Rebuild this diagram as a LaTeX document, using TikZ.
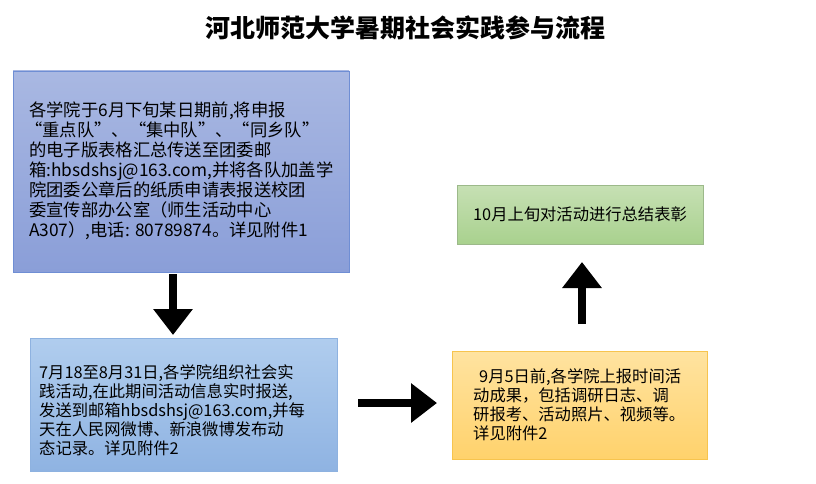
\documentclass[tikz,border=0pt]{standalone}
\usepackage{fontspec}
\setmainfont{Noto Sans CJK SC}
\usetikzlibrary{arrows.meta}
\definecolor{bA}{HTML}{A9B8E2}\definecolor{bB}{HTML}{8A9ED8}\definecolor{bE}{HTML}{6F8ED4}
\definecolor{cA}{HTML}{B0CDEE}\definecolor{cB}{HTML}{8FB3E2}\definecolor{cE}{HTML}{8EB2E0}
\definecolor{yA}{HTML}{FFE3A0}\definecolor{yB}{HTML}{FFD26C}\definecolor{yE}{HTML}{F7C44E}
\definecolor{gA}{HTML}{C6E0B4}\definecolor{gB}{HTML}{A9D18E}\definecolor{gE}{HTML}{9CB98A}
\begin{document}
\begin{tikzpicture}[x=1pt,y=-1pt,
  boxtext/.style={anchor=north west,align=left,inner sep=0pt,font=\fontsize{17.3}{20}\selectfont},
  bigarrow/.style={line width=8pt,-{Triangle[length=26pt,width=38pt]}}]
\useasboundingbox[fill=white] (0,0) rectangle (816,484);
\node[font=\fontsize{25}{28}\selectfont\bfseries] (title) at (405,28) {河北师范大学暑期社会实践参与流程};
\shade[top color=bA,bottom color=bB,draw=bE] (13,71) rectangle (349,272);
\coordinate (b1s) at (173,274);
\node[boxtext] (t1) at (29,102) {各学院于6月下旬某日期前,将申报\\
\hspace*{-4pt}“重点队”、“集中队”、“同乡队”\\
的电子版表格汇总传送至团委邮\\
箱:hbsdshsj@163.com,并将各队加盖学\\
院团委公章后的纸质申请表报送校团\\
委宣传部办公室（师生活动中心\\
A307）,电话: 80789874。详见附件1};
\shade[top color=cA,bottom color=cB,draw=cE] (30,338) rectangle (337,471);
\coordinate (b2n) at (173,335);
\node[boxtext,font=\fontsize{16.3}{19}\selectfont] (t2) at (39,364) {7月18至8月31日,各学院组织社会实\\
践活动,在此期间活动信息实时报送,\\
发送到邮箱hbsdshsj@163.com,并每\\
天在人民网微博、新浪微博发布动\\
态记录。详见附件2};
\shade[top color=yA,bottom color=yB,draw=yE] (452,351) rectangle (707,459);
\node[boxtext,font=\fontsize{16.3}{19}\selectfont] (t3) at (473,368) {\hspace*{6pt}9月5日前,各学院上报时间活\\
动成果，包括调研日志、调\\
研报考、活动照片、视频等。\\
详见附件2};
\shade[top color=gA,bottom color=gB,draw=gE] (457,185) rectangle (703,244);
\node[font=\fontsize{16.3}{19}\selectfont] (t4) at (580,214) {10月上旬对活动进行总结表彰};
\coordinate (a2s) at (358,403);\coordinate (a2e) at (437,403);
\coordinate (a3s) at (582,324);\coordinate (a3e) at (582,262);
\draw[bigarrow] (b1s) -- (b2n);
\draw[bigarrow] (a2s) -- (a2e);
\draw[bigarrow] (a3s) -- (a3e);
\end{tikzpicture}
\end{document}
